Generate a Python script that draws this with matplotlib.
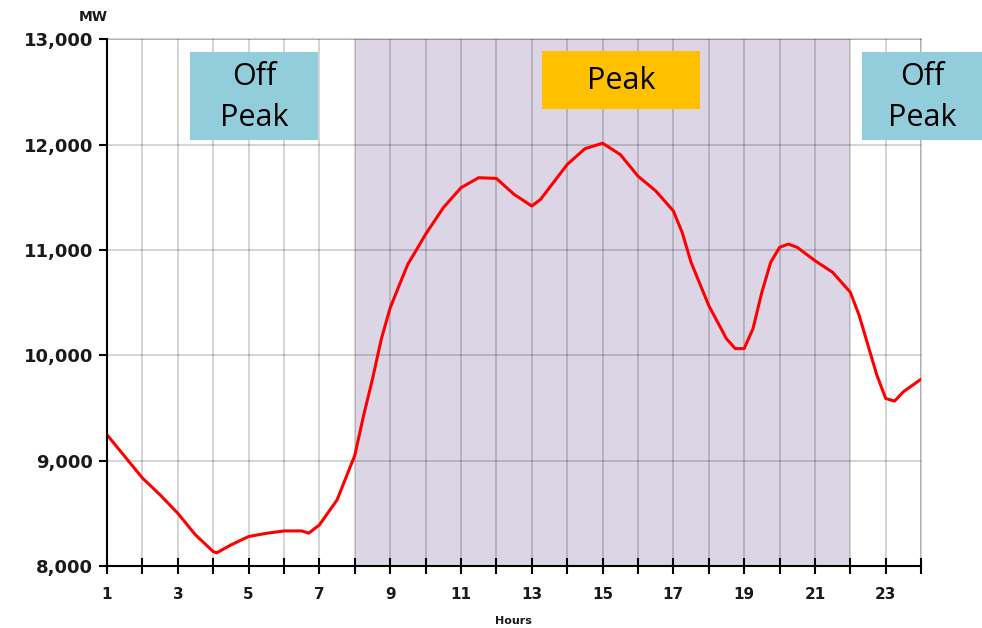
import matplotlib
matplotlib.use("Agg")
import matplotlib.pyplot as plt
from matplotlib.patches import Rectangle

# load curve (hour, MW)
hours = [1, 1.5, 2, 2.5, 3, 3.5, 4, 4.1, 4.5, 5, 5.5, 6, 6.5, 6.7, 7, 7.5,
         8, 8.25, 8.5, 8.75, 9, 9.25, 9.5, 9.75, 10, 10.5, 11, 11.5, 12,
         12.5, 13, 13.25, 13.5, 14, 14.5, 15, 15.5, 16, 16.5, 17, 17.25,
         17.5, 17.75, 18, 18.25, 18.5, 18.75, 19, 19.25, 19.5, 19.75, 20,
         20.25, 20.5, 21, 21.5, 22, 22.25, 22.5, 22.75, 23, 23.25, 23.5, 24]
mw = [9245, 9040, 8835, 8675, 8500, 8295, 8137, 8125, 8200, 8280, 8310,
      8333, 8333, 8312, 8390, 8628, 9050, 9430, 9775, 10155, 10450, 10660,
      10865, 11005, 11148, 11400, 11590, 11685, 11678, 11527, 11416, 11480,
      11590, 11810, 11960, 12012, 11905, 11700, 11560, 11370, 11165, 10882,
      10677, 10472, 10315, 10157, 10063, 10063, 10252, 10598, 10882, 11024,
      11055, 11024, 10898, 10787, 10598, 10378, 10094, 9811, 9590, 9565,
      9654, 9773]

peak_start, peak_end = 8, 22
y_ticks = [8000, 9000, 10000, 11000, 12000, 13000]
x_labels = [1, 3, 5, 7, 9, 11, 13, 15, 17, 19, 21, 23]

fig = plt.figure(figsize=(9.82, 6.28), dpi=100)
ax = fig.add_axes([0.109, 0.0987, 0.829, 0.839])

ax.axvspan(peak_start, peak_end, color="#dcd5e6", zorder=0, lw=0)
ax.plot(hours, mw, color="#ff0000", lw=2.2, zorder=3)

ax.set_xlim(1, 24)
ax.set_ylim(8000, 13000)
ax.set_xticks(range(1, 25))
ax.set_xticklabels([str(h) if h in x_labels else "" for h in range(1, 25)])
ax.set_yticks(y_ticks)
ax.set_yticklabels([f"{v:,}" for v in y_ticks])

# 半透明の黒でグリッド（塗りの上では濃く見える）
ax.grid(True, color="black", alpha=0.18, lw=1.3, zorder=1)
ax.set_axisbelow(False)
for s in ["top", "right"]:
    ax.spines[s].set_edgecolor("black")
    ax.spines[s].set_alpha(0.18)
    ax.spines[s].set_linewidth(1.3)
for s in ["left", "bottom"]:
    ax.spines[s].set_color("black")
    ax.spines[s].set_linewidth(1.5)
    ax.spines[s].set_zorder(4)

ax.tick_params(axis="y", direction="out", length=6, width=1.5,
               labelsize=13, pad=4)
ax.tick_params(axis="x", direction="inout", length=12, width=1.5,
               labelsize=11, pad=9)
for lab in ax.get_xticklabels() + ax.get_yticklabels():
    lab.set_fontweight("bold")
    lab.set_color("#1a1a1a")

fig.text(0.095, 0.973, "MW", ha="center", va="center", fontsize=10,
         fontweight="bold", color="#1a1a1a")
fig.text(0.5225, 0.011, "Hours", ha="center", va="center", fontsize=8,
         fontweight="bold", color="#1a1a1a")

# annotation boxes
boxes = [
    (0.1935, 0.777, 0.1303, 0.140, "#92cddc", "Off\nPeak"),
    (0.5516, 0.8264, 0.1612, 0.0924, "#ffc000", "Peak"),
    (0.8778, 0.777, 0.1222, 0.140, "#92cddc", "Off\nPeak"),
]
for x0, y0, w, h, c, txt in boxes:
    fig.patches.append(Rectangle((x0, y0), w, h, transform=fig.transFigure,
                                 facecolor=c, edgecolor="none", zorder=5))
    fig.text(x0 + w / 2, y0 + h / 2 - 0.002, txt, ha="center", va="center",
             fontsize=22, family="Open Sans", linespacing=1.45,
             color="black", zorder=6)

plt.savefig("out.png", dpi=100)
